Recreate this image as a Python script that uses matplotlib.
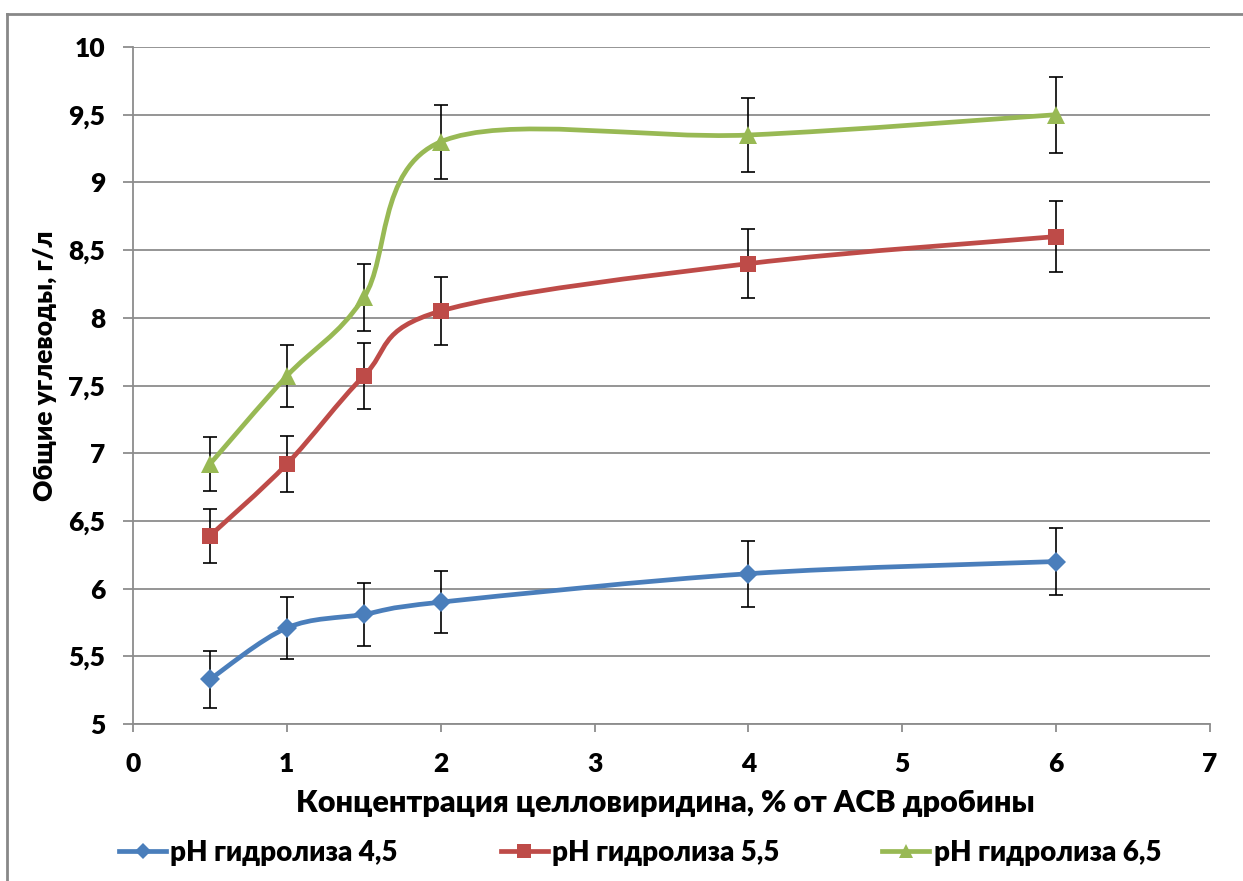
import matplotlib
matplotlib.use('Agg')
import matplotlib.pyplot as plt
import numpy as np
from matplotlib.path import Path
from matplotlib.patches import PathPatch
from matplotlib.lines import Line2D
from matplotlib.ticker import FuncFormatter

plt.rcParams['font.family'] = ['Lato', 'DejaVu Sans']
plt.rcParams['font.weight'] = 'heavy'

# enzyme concentration, % of dry grain matter
conc = [0.5, 1, 1.5, 2, 4, 6]

# total carbohydrates, g/l, and error bar half-widths
ph45 = [5.33, 5.71, 5.81, 5.90, 6.11, 6.20]
ph45_err = [0.21, 0.23, 0.235, 0.23, 0.245, 0.25]
ph55 = [6.39, 6.92, 7.57, 8.05, 8.40, 8.60]
ph55_err = [0.20, 0.205, 0.245, 0.25, 0.255, 0.26]
ph65 = [6.92, 7.57, 8.15, 9.30, 9.35, 9.50]
ph65_err = [0.20, 0.23, 0.245, 0.275, 0.275, 0.28]

labels = ['pH гидролиза 4,5', 'pH гидролиза 5,5', 'pH гидролиза 6,5']
colors = ['#4A7EBB', '#BE4B48', '#98B954']
markers = ['D', 's', '^']
msizes = [10, 12, 13]


def smooth_path(x, y):
    # Excel-style smoothed line: cubic bezier through each point
    pts = np.column_stack([x, y]).astype(float)
    n = len(pts)
    verts = [pts[0]]
    codes = [Path.MOVETO]
    for i in range(n - 1):
        p0 = pts[i - 1] if i > 0 else pts[i]
        p1 = pts[i]
        p2 = pts[i + 1]
        p3 = pts[i + 2] if i + 2 < n else pts[i + 1]
        c1 = p1 + (p2 - p0) / 6.0
        c2 = p2 - (p3 - p1) / 6.0
        verts += [c1, c2, p2]
        codes += [Path.CURVE4] * 3
    return Path(verts, codes)


fig = plt.figure(figsize=(12.43, 8.81), dpi=100)
ax = fig.add_axes([133 / 1243, 1 - 724 / 881, (1210 - 133) / 1243, (724 - 47) / 881])

series = [(ph45, ph45_err), (ph55, ph55_err), (ph65, ph65_err)]
for (vals, errs), c, m, ms in zip(series, colors, markers, msizes):
    ax.add_patch(PathPatch(smooth_path(conc, vals), facecolor='none',
                           edgecolor=c, lw=3.4, capstyle='round', zorder=3))
    ax.errorbar(conc, vals, yerr=errs, fmt='none', ecolor='black',
                elinewidth=1.2, capsize=5, capthick=1.2, zorder=4)
    ax.plot(conc, vals, linestyle='none', marker=m, color=c, ms=ms,
            markeredgewidth=0, zorder=5)

ax.set_xlim(0, 7)
ax.set_ylim(5, 10)
ax.set_xticks(range(0, 8))
ax.set_yticks(np.arange(5, 10.01, 0.5))
ax.yaxis.set_major_formatter(FuncFormatter(lambda v, p: ('%g' % v).replace('.', ',')))
ax.grid(axis='y', color='#8C8C8C', lw=1.3)
ax.set_axisbelow(True)
for s in ['top', 'right']:
    ax.spines[s].set_visible(False)
for s in ['left', 'bottom']:
    ax.spines[s].set_color('#8C8C8C')
    ax.spines[s].set_linewidth(1.3)
ax.tick_params(axis='both', colors='#8C8C8C', width=1.3, labelcolor='black',
               labelsize=19)
ax.tick_params(axis='y', length=7, pad=13)
ax.tick_params(axis='x', length=6, pad=14)

fig.text(45 / 1243, 1 - 366 / 881, 'Общие углеводы, г/л', rotation=90,
         fontsize=19, fontweight='heavy', ha='center', va='center')
fig.text(665 / 1243, 1 - 803 / 881, 'Концентрация целловиридина, % от АСВ дробины',
         fontsize=22, fontweight='heavy', ha='center', va='center')

handles = [Line2D([], [], color=c, lw=3.4, marker=m, ms=ms * 0.8, markeredgewidth=0)
           for c, m, ms in zip(colors, markers, msizes)]
fig.legend(handles, labels, loc='center', bbox_to_anchor=(640 / 1243, 1 - 853 / 881),
           ncol=3, frameon=False, prop={'size': 20, 'weight': 'heavy'},
           handlelength=1.7, handletextpad=0.15, columnspacing=3.7)

# chart frame
fig.add_artist(Line2D([7 / 1243, 7 / 1243], [0, 1 - 14 / 881], color='#888888', lw=2))
fig.add_artist(Line2D([7 / 1243, 1], [1 - 14 / 881, 1 - 14 / 881], color='#888888', lw=2))

fig.savefig('out.png', dpi=100)
